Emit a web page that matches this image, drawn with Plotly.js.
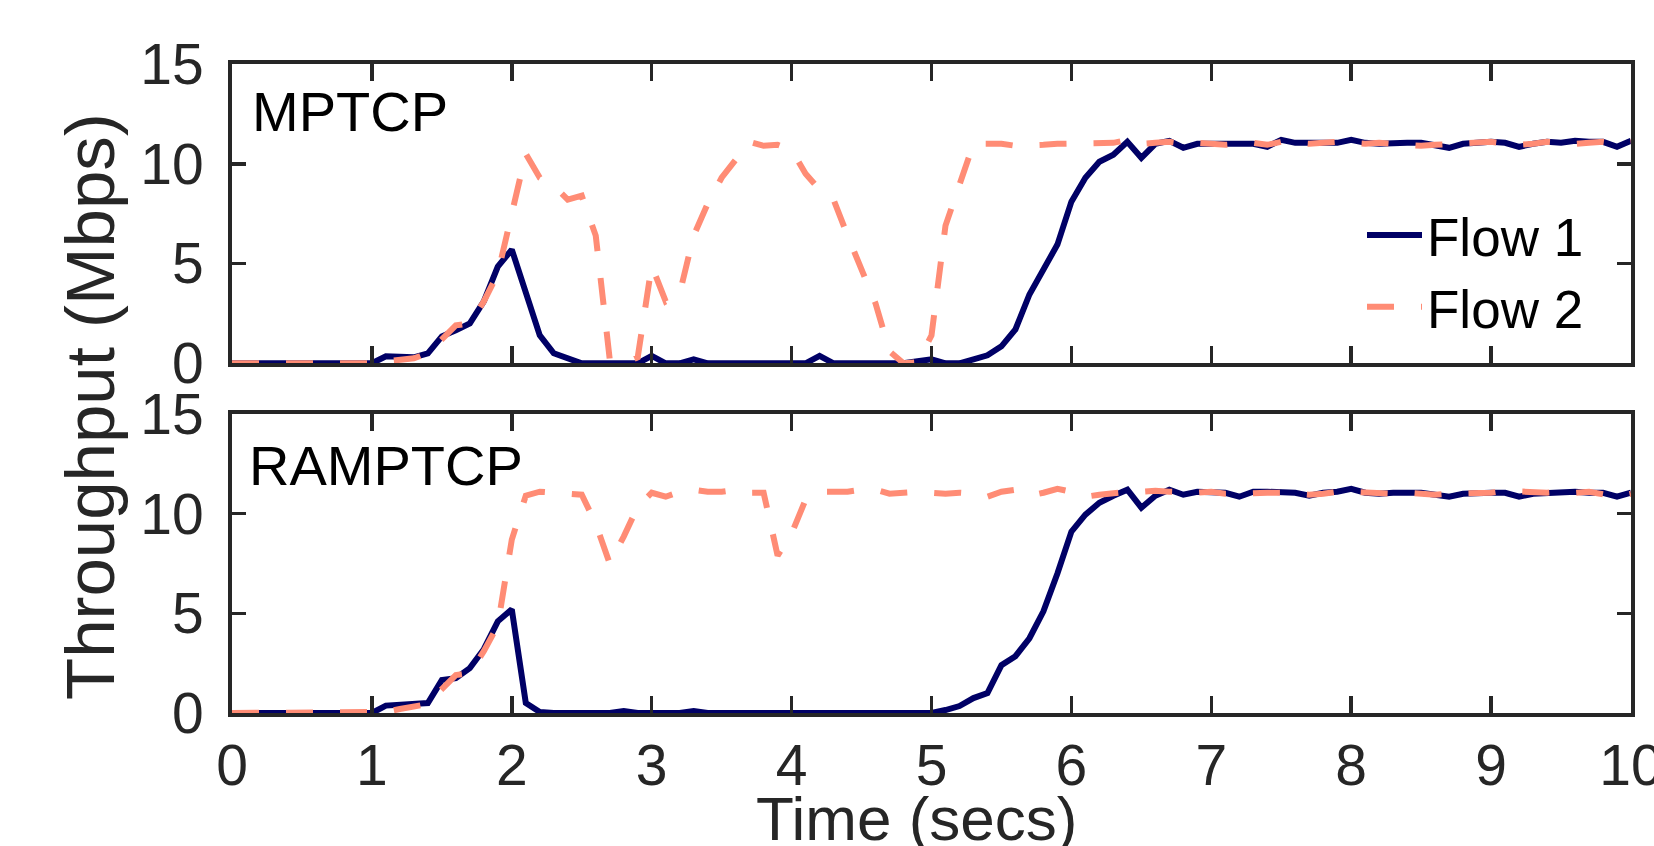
<!DOCTYPE html>
<html>
<head>
<meta charset="utf-8">
<script src="https://cdn.plot.ly/plotly-3.0.1.min.js"></script>
<style>html,body{margin:0;padding:0;background:#fff;}#chart{width:1654px;height:846px;}</style>
</head>
<body>
<div id="chart"></div>
<script>
// ---- Data (Throughput in Mbps, sampled every 0.1 s) ----
const time = [0,0.1,0.2,0.3,0.4,0.5,0.6,0.7,0.8,0.9,1.0,1.1,1.2,1.3,1.4,1.5,1.6,1.7,1.8,1.9,2.0,2.1,2.2,2.3,2.4,2.5,2.6,2.7,2.8,2.9,3.0,3.1,3.2,3.3,3.4,3.5,3.6,3.7,3.8,3.9,4.0,4.1,4.2,4.3,4.4,4.5,4.6,4.7,4.8,4.9,5.0,5.1,5.2,5.3,5.4,5.5,5.6,5.7,5.8,5.9,6.0,6.1,6.2,6.3,6.4,6.5,6.6,6.7,6.8,6.9,7.0,7.1,7.2,7.3,7.4,7.5,7.6,7.7,7.8,7.9,8.0,8.1,8.2,8.3,8.4,8.5,8.6,8.7,8.8,8.9,9.0,9.1,9.2,9.3,9.4,9.5,9.6,9.7,9.8,9.9,10.0];

const mptcpFlow1 = [0,0,0,0,0,0,0,0,0,0,0,0.35,0.3,0.3,0.5,1.35,1.65,2.0,3.1,4.85,5.7,3.5,1.4,0.5,0.25,0,0,0,0,0,0.37,0,0,0.2,0,0,0,0,0,0,0,0,0.37,0,0,0,0,0,0,0.1,0.2,0,0,0.2,0.4,0.85,1.7,3.45,4.7,5.95,8.1,9.3,10.1,10.45,11.1,10.3,11.0,11.15,10.8,11.0,11.0,11.0,10.95,11.0,10.85,11.2,11.05,11.05,11.05,11.05,11.2,11.05,11.0,11.05,11.05,11.05,10.95,10.8,11.0,11.05,11.1,11.05,10.85,11.0,11.1,11.05,11.15,11.1,11.1,10.85,11.15];

const mptcpFlow2 = [0,0,0,0,0,0,0,0,0,0,0,0.1,0.2,0.25,0.5,1.2,1.9,2.0,3.1,4.5,7.4,10.5,9.3,8.9,8.2,8.4,6.4,0.2,0,0.3,4.9,3.1,3.5,6.4,8.0,9.3,10.2,11.1,10.9,10.95,10.7,9.5,8.7,8.2,6.4,4.7,3.0,0.6,0,0.05,1.4,6.9,8.9,11.0,11.0,11.0,10.9,10.9,10.95,11.0,11.0,11.05,11.05,11.05,11.2,11.0,11.05,11.1,11.0,11.05,11.0,10.95,11.0,11.05,10.95,11.1,11.05,11.0,11.05,11.1,11.05,11.0,11.05,11.0,10.95,10.9,10.95,11.0,11.0,11.05,11.1,11.0,10.95,11.0,11.1,11.05,11.0,11.05,11.1,11.0,11.1];

const ramptcpFlow1 = [0,0,0,0,0,0,0,0,0,0,0,0.37,0.4,0.45,0.5,1.65,1.75,2.25,3.2,4.6,5.2,0.5,0.05,0,0,0,0,0,0.1,0,0,0,0,0.1,0,0,0,0,0,0,0,0,0,0,0,0,0,0,0,0,0,0.15,0.35,0.75,1.0,2.4,2.85,3.75,5.1,7.0,9.1,9.95,10.55,10.9,11.2,10.3,10.9,11.2,10.95,11.1,11.1,11.05,10.85,11.1,11.1,11.05,11.05,10.9,11.05,11.1,11.25,11.05,11.0,11.05,11.05,11.05,10.95,10.85,11.0,11.05,11.05,11.05,10.85,11.0,11.05,11.1,11.1,11.05,11.05,10.85,11.05];

const ramptcpFlow2 = [0,0,0,0,0,0,0,0,0,0,0,0.05,0.2,0.3,0.45,1.2,1.9,2.0,3.1,4.4,8.7,10.9,11.1,11.05,11.0,10.95,9.5,7.5,8.85,10.35,11.05,10.85,11.1,11.2,11.1,11.1,11.2,11.05,11.05,7.9,9.0,10.7,11.1,11.1,11.1,11.2,11.2,11.0,11.05,11.1,11.05,11.0,11.05,11.0,10.85,11.1,11.2,10.9,11.05,11.25,11.1,10.85,10.95,11.05,11.1,11.1,11.15,11.1,11.05,11.05,11.1,11.0,11.0,11.05,11.05,11.05,11.0,10.95,11.0,11.1,11.1,11.05,11.0,11.0,11.05,11.0,10.95,11.0,11.0,11.0,11.05,11.15,11.1,11.05,11.05,11.1,11.05,11.1,11.0,10.85,11.0];

const seriesNames = ["Flow 1", "Flow 2"];
const panelLabels = ["MPTCP", "RAMPTCP"];
const xTickVals = [0,1,2,3,4,5,6,7,8,9,10];
const yTickVals = [0,5,10,15];
const xTitle = "Time (secs)";
const yTitle = "Throughput (Mbps)";

// ---- Styling / layout ----
const navy = "#000066";
const salmon = "#FF8C75";
const axisCol = "#262626";
const FONT = "Liberation Sans, Arial, Helvetica, sans-serif";

const W = 1654, H = 846;
const M = {l: 232, r: 23, t: 64, b: 133};
const PW = W - M.l - M.r, PH = H - M.t - M.b;
const px2x = px => (px - M.l) / PW;
const px2y = py => (H - M.b - py) / PH;

const flow1Line = {color: navy, width: 6};
const flow2Line = {color: salmon, width: 6, dash: "27px,27px"};

const traces = [
  {x: time, y: mptcpFlow1, type: "scatter", mode: "lines", name: seriesNames[0], line: flow1Line, xaxis: "x", yaxis: "y", legendrank: 1},
  {x: time, y: mptcpFlow2, type: "scatter", mode: "lines", name: seriesNames[1], line: flow2Line, xaxis: "x", yaxis: "y", legendrank: 2},
  {x: time, y: ramptcpFlow1, type: "scatter", mode: "lines", name: seriesNames[0], line: flow1Line, xaxis: "x2", yaxis: "y2", showlegend: false},
  {x: time, y: ramptcpFlow2, type: "scatter", mode: "lines", name: seriesNames[1], line: flow2Line, xaxis: "x2", yaxis: "y2", showlegend: false}
];

const axisBase = {
  showline: true, linecolor: axisCol, linewidth: 4, mirror: "ticks",
  ticks: "inside", tickcolor: axisCol, tickwidth: 3.5,
  showgrid: false, zeroline: false,
  ticklabeloverflow: "allow",
  tickfont: {family: FONT, size: 57, color: axisCol}
};

const layout = {
  width: W, height: H,
  margin: M,
  paper_bgcolor: "#ffffff", plot_bgcolor: "#ffffff",
  showlegend: true,
  legend: {
    x: px2x(1362), y: px2y(194), xanchor: "left", yanchor: "top",
    bgcolor: "rgba(0,0,0,0)", borderwidth: 0,
    itemwidth: 55,
    font: {family: FONT, size: 53, color: "#000000"},
    tracegroupgap: 0
  },
  xaxis: Object.assign({}, axisBase, {domain: [0, 1], range: [0, 10], tickvals: xTickVals, ticklen: 17, showticklabels: false, anchor: "y"}),
  yaxis: Object.assign({}, axisBase, {domain: [px2y(363.3), 1], range: [0, 15], tickvals: yTickVals, ticklen: 14, anchor: "x", ticklabelstandoff: 13}),
  xaxis2: Object.assign({}, axisBase, {domain: [0, 1], range: [0, 10], tickvals: xTickVals, ticklen: 17, anchor: "y2", ticklabelstandoff: 0}),
  yaxis2: Object.assign({}, axisBase, {domain: [0, px2y(414)], range: [0, 15], tickvals: yTickVals, ticklen: 14, anchor: "x2", ticklabelstandoff: 13}),
  annotations: [
    {text: panelLabels[0], xref: "paper", yref: "paper", x: px2x(250), y: px2y(111), xanchor: "left", yanchor: "middle", showarrow: false, font: {family: FONT, size: 56, color: "#000000"}},
    {text: panelLabels[1], xref: "paper", yref: "paper", x: px2x(247), y: px2y(466), xanchor: "left", yanchor: "middle", showarrow: false, font: {family: FONT, size: 56, color: "#000000"}},
    {text: xTitle, xref: "paper", yref: "paper", x: px2x(916.5), y: px2y(818), xanchor: "center", yanchor: "middle", showarrow: false, font: {family: FONT, size: 62, color: axisCol}},
    {text: yTitle, xref: "paper", yref: "paper", x: px2x(90), y: px2y(407), xanchor: "center", yanchor: "middle", textangle: -90, showarrow: false, font: {family: FONT, size: 69, color: axisCol}}
  ]
};

Plotly.newPlot("chart", traces, layout, {displayModeBar: false, staticPlot: true});
</script>
</body>
</html>
